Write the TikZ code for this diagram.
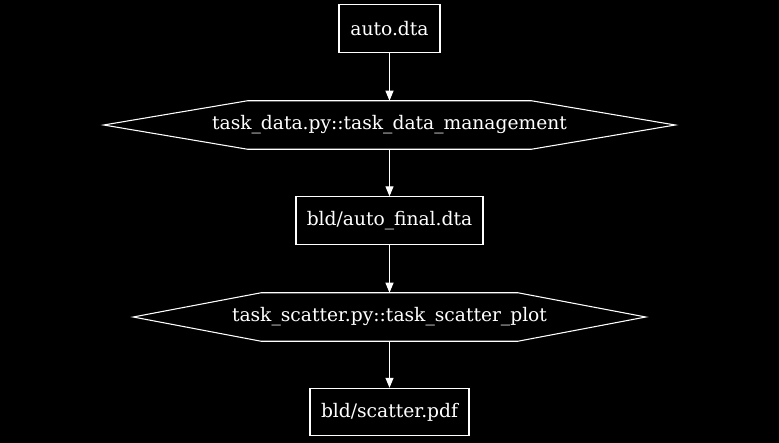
\documentclass[tikz,border=0pt]{standalone}
\usepackage{fontspec}
\setmainfont{DejaVu Serif}
\usetikzlibrary{arrows.meta}

\begin{document}
\begin{tikzpicture}[x=0.75pt,y=-0.75pt]
      \tikzset{
        file/.style={draw=white, rectangle, text=white, line width=0.8pt, inner sep=0pt, minimum height=35.5pt, font=\fontsize{14}{17}\selectfont},
        task/.style={rectangle, text=white, inner sep=0pt, minimum height=36pt, font=\fontsize{14}{17}\selectfont},
        hexline/.style={draw=white, line width=0.8pt},
        line/.style={draw=white, line width=0.8pt, -{Triangle[length=7.5pt,width=6pt]}},
      }
      \fill[black] (0,0) rectangle (779,443);

      \node [file, minimum width=75.75pt] (auto) at (389.5,28.5) {auto.dta};
      \node [task, minimum width=428.25pt] (data) at (389.5,125) {task\_data.py::task\_data\_management};
      \node [file, minimum width=140.25pt] (final) at (389.5,220.5) {bld/auto\_final.dta};
      \node [task, minimum width=384pt] (scatter) at (389.5,317) {task\_scatter.py::task\_scatter\_plot};
      \node [file, minimum width=119.25pt] (pdf) at (389.5,412) {bld/scatter.pdf};

      % hexagon outlines
      \path [hexline] (data.west) -- ([xshift=108pt]data.north west) -- ([xshift=-108pt]data.north east)
        -- (data.east) -- ([xshift=-108pt]data.south east) -- ([xshift=108pt]data.south west) -- cycle;
      \path [hexline] (scatter.west) -- ([xshift=96pt]scatter.north west) -- ([xshift=-96pt]scatter.north east)
        -- (scatter.east) -- ([xshift=-96pt]scatter.south east) -- ([xshift=96pt]scatter.south west) -- cycle;

      \path [line] (auto)--(data);
      \path [line] (data)--(final);
      \path [line] (final)--(scatter);
      \path [line] (scatter)--(pdf);
\end{tikzpicture}
\end{document}
